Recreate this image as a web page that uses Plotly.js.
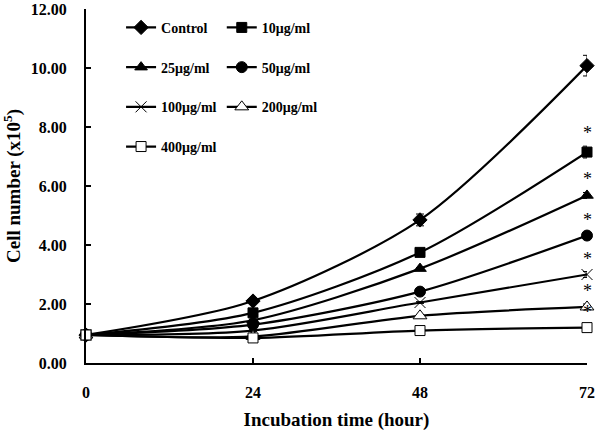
<!DOCTYPE html>
<html>
<head>
<meta charset="utf-8">
<script src="https://cdn.plot.ly/plotly-3.0.1.min.js"></script>
<style>body{margin:0;background:#fff}</style>
</head>
<body>
<div id="fig" style="width:600px;height:436px"></div>
<script>
var hours = [0, 24, 48, 72];
var names = ['Control', '10\u03bcg/ml', '25\u03bcg/ml', '50\u03bcg/ml', '100\u03bcg/ml', '200\u03bcg/ml', '400\u03bcg/ml'];
var control = [0.95, 2.1, 4.85, 10.08];
var c10 = [0.95, 1.7, 3.75, 7.15];
var c25 = [0.95, 1.45, 3.2, 5.68];
var c50 = [0.95, 1.3, 2.42, 4.32];
var c100 = [0.95, 1.1, 2.05, 3.0];
var c200 = [0.95, 0.9, 1.6, 1.9];
var c400 = [0.95, 0.85, 1.1, 1.2];
var err_control = [0, 0.05, 0.2, 0.35];
var err_10 = [0, 0.05, 0.05, 0.2];
var err_small = [0, 0.03, 0.03, 0.1];
var stars = ['', '*', '*', '*', '*', '*', '*'];

var series = [control, c10, c25, c50, c100, c200, c400];
var errs = [err_control, err_10, err_small, err_small, err_small, err_small, err_small];
// marker style per series
var symbols = ['diamond', 'square', 'triangle-up', 'circle', 'x-thin', 'triangle-up', 'square'];
var fills = ['#000', '#000', '#000', '#000', '#000', '#fff', '#fff'];
var sizes = [11, 10, 11, 11, 11, 12, 10];
var legends = ['legend', 'legend2', 'legend', 'legend2', 'legend', 'legend2', 'legend'];

var data = [];
for (var i = 0; i < series.length; i++) {
  data.push({
    x: hours,
    y: series[i],
    name: names[i],
    type: 'scatter',
    mode: 'lines+markers',
    line: {color: '#000', width: 2.2, shape: 'spline', smoothing: 0.8},
    marker: {symbol: symbols[i], size: sizes[i], color: fills[i], line: {color: '#000', width: 1}},
    error_y: {type: 'data', array: errs[i], visible: true, color: '#000', thickness: 1, width: 4},
    legend: legends[i],
    legendgroup: 'g' + i,
    cliponaxis: false
  });
}

var annotations = [];
for (var i = 1; i < series.length; i++) {
  annotations.push({
    x: 72, y: series[i][3] + errs[i][3], xref: 'x', yref: 'y',
    text: stars[i], showarrow: false, yanchor: 'bottom', yshift: 1,
    font: {family: 'Liberation Serif', size: 18, color: '#000'}
  });
}

var legendStyle = {
  font: {family: 'Liberation Serif', size: 14, color: '#000', weight: 'bold'},
  bgcolor: 'rgba(0,0,0,0)', tracegroupgap: 18.5, itemwidth: 30,
  xanchor: 'left', yanchor: 'top', y: 0.992
};
var leg1 = Object.assign({}, legendStyle, {x: 0.07});
var leg2 = Object.assign({}, legendStyle, {x: 0.271});

var layout = {
  width: 600, height: 436,
  margin: {l: 86, r: 13, t: 9, b: 73},
  paper_bgcolor: '#fff', plot_bgcolor: '#fff',
  font: {family: 'Liberation Serif', color: '#000'},
  showlegend: true,
  legend: leg1,
  legend2: leg2,
  annotations: annotations,
  xaxis: {
    range: [0, 72], tickvals: hours, ticktext: ['0', '24', '48', '72'],
    showgrid: false, zeroline: false, showline: true, linecolor: '#000', linewidth: 2,
    ticks: 'inside', ticklen: 5, tickwidth: 2, tickcolor: '#000',
    ticklabelstandoff: 14,
    tickfont: {family: 'Liberation Serif', size: 16, color: '#000', weight: 'bold'},
    title: {text: 'Incubation time (hour)', standoff: 12,
      font: {family: 'Liberation Serif', size: 19, color: '#000', weight: 'bold'}}
  },
  yaxis: {
    range: [0, 12], dtick: 2, tickformat: '.2f',
    showgrid: false, zeroline: false, showline: true, linecolor: '#000', linewidth: 2,
    ticks: 'inside', ticklen: 5, tickwidth: 2, tickcolor: '#000',
    ticklabelstandoff: 14,
    tickfont: {family: 'Liberation Serif', size: 16, color: '#000', weight: 'bold'},
    title: {text: 'Cell number (x10<sup>5</sup>)', standoff: 10,
      font: {family: 'Liberation Serif', size: 19, color: '#000', weight: 'bold'}}
  }
};

Plotly.newPlot('fig', data, layout, {displayModeBar: false, staticPlot: true});
</script>
</body>
</html>
